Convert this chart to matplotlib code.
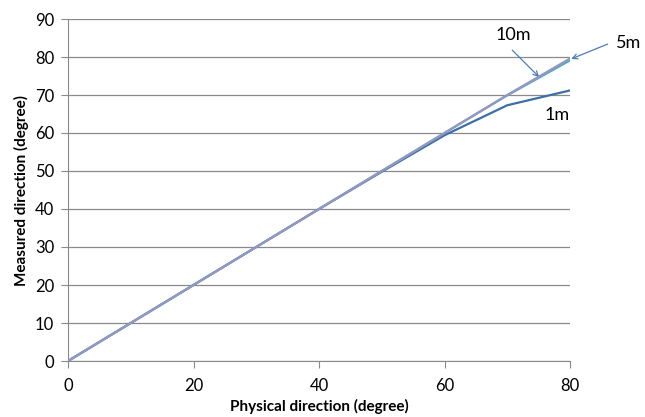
import matplotlib
matplotlib.use("Agg")
import matplotlib.pyplot as plt

x = [0, 10, 20, 30, 40, 50, 60, 70, 80]
y_1m = [0, 10, 20, 30, 40, 49.8, 59.4, 67.3, 71.2]
y_5m = [0, 10, 20, 30, 40, 50, 60, 69.9, 79.1]
y_10m = [0, 10, 20, 30, 40, 50, 60, 70, 79.6]
xticks = [0, 20, 40, 60, 80]
yticks = [0, 10, 20, 30, 40, 50, 60, 70, 80, 90]

plt.rcParams['font.family'] = ['Lato', 'DejaVu Sans']

fig = plt.figure(figsize=(6.45, 4.17), dpi=100)
ax = fig.add_axes([68/645, 1-361/417, (570-68)/645, (361-19)/417])

ax.plot(x, y_1m, color='#3b6fa8', lw=1.6, zorder=3)
ax.plot(x, y_5m, color='#4bacc6', lw=1.6, zorder=4)
ax.plot(x, y_10m, color='#9896bf', lw=1.6, zorder=5)

ax.set_xlim(0, 80)
ax.set_ylim(0, 90)
ax.set_xticks(xticks)
ax.set_yticks(yticks)
ax.grid(axis='y', color='#8a8a8a', lw=0.9)
ax.set_axisbelow(True)
for s in ['top', 'right']:
    ax.spines[s].set_visible(False)
for s in ['left', 'bottom']:
    ax.spines[s].set_color('#8a8a8a')
ax.tick_params(axis='both', colors='#8a8a8a', labelcolor='black', labelsize=12, length=5, direction='out')
ax.tick_params(axis='x', pad=7)
ax.tick_params(axis='y', pad=5)

ax.set_xlabel('Physical direction (degree)', fontsize=11, fontweight='bold', labelpad=4)
ax.set_ylabel('Measured direction (degree)', fontsize=11, fontweight='bold', labelpad=4)

arrow = dict(arrowstyle='->', color='#4a7ebb', lw=0.9, shrinkA=0, shrinkB=0, mutation_scale=9)
ax.annotate('', xy=(75.1, 74.7), xytext=(70.8, 81.8), arrowprops=arrow, annotation_clip=False)
ax.annotate('', xy=(80.2, 79.5), xytext=(86.0, 83.4), arrowprops=arrow, annotation_clip=False)
ax.text(68.1, 85.8, '10m', fontsize=13, ha='left', va='center')
ax.text(87.3, 83.6, '5m', fontsize=13, ha='left', va='center')
ax.text(77.9, 64.7, '1m', fontsize=13, ha='center', va='center')

fig.savefig('out.png', dpi=100)
